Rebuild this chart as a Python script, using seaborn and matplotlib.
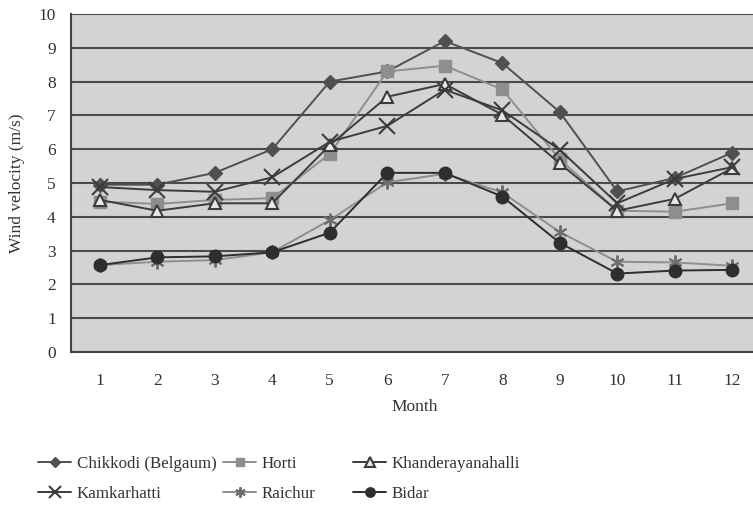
import matplotlib
matplotlib.use("Agg")
import matplotlib.pyplot as plt
import seaborn as sns
import pandas as pd
import numpy as np

months = [1, 2, 3, 4, 5, 6, 7, 8, 9, 10, 11, 12]
chikkodi = [4.95, 4.95, 5.3, 6.0, 8.0, 8.3, 9.2, 8.55, 7.1, 4.75, 5.15, 5.9]
horti = [4.45, 4.38, 4.5, 4.55, 5.86, 8.3, 8.47, 7.77, 5.7, 4.18, 4.15, 4.4]
khanderayanahalli = [4.5, 4.18, 4.4, 4.4, 6.12, 7.55, 7.93, 7.02, 5.58, 4.18, 4.53, 5.44]
kamkarhatti = [4.88, 4.79, 4.74, 5.17, 6.22, 6.69, 7.76, 7.15, 5.98, 4.4, 5.12, 5.47]
raichur = [2.57, 2.67, 2.72, 2.95, 3.9, 5.02, 5.27, 4.72, 3.55, 2.67, 2.65, 2.55]
bidar = [2.57, 2.8, 2.83, 2.95, 3.53, 5.3, 5.3, 4.6, 3.23, 2.32, 2.41, 2.43]

names = ["Chikkodi (Belgaum)", "Horti", "Khanderayanahalli",
         "Kamkarhatti", "Raichur", "Bidar"]
series = [chikkodi, horti, khanderayanahalli, kamkarhatti, raichur, bidar]

df = pd.DataFrame({
    "Month": months * len(names),
    "Wind": sum(series, []),
    "Site": sum([[n] * len(months) for n in names], []),
})

sns.set_theme(style="white")
plt.rcParams['font.family'] = ['Liberation Serif', 'DejaVu Serif']

dark = "#505050"
light = "#8e8e8e"
styles = {
    "Chikkodi (Belgaum)": dict(color=dark, marker="D", ms=7, mfc=dark, mec=dark, lw=1.4),
    "Horti": dict(color=light, marker="s", ms=8, mfc=light, mec=light, lw=1.4),
    "Khanderayanahalli": dict(color="#3c3c3c", marker="^", ms=9, mfc="#e8e8e8", mec="#3c3c3c", lw=1.4, mew=1.5),
    "Kamkarhatti": dict(color="#3c3c3c", marker="x", ms=11, mfc="none", mec="#3c3c3c", lw=1.4, mew=1.5),
    "Raichur": dict(color=light, marker=(6, 2, 0), ms=10, mfc="none", mec="#6e6e6e", lw=1.4, mew=1.4),
    "Bidar": dict(color="#2e2e2e", marker="o", ms=9, mfc="#2e2e2e", mec="#2e2e2e", lw=1.4),
}

fig = plt.figure(figsize=(7.53, 5.05), dpi=100)
ax = fig.add_axes([71 / 753, (505 - 352) / 505, (761 - 71) / 753, (352 - 14) / 505])
ax.set_facecolor("#d3d3d3")

for n in names:
    st = styles[n]
    sub = df[df["Site"] == n]
    sns.lineplot(data=sub, x="Month", y="Wind", ax=ax, color=st["color"],
                 lw=st["lw"], legend=False, zorder=3)
    line = ax.lines[-1]
    line.set_marker(st["marker"])
    line.set_markersize(st["ms"])
    line.set_markerfacecolor(st["mfc"])
    line.set_markeredgecolor(st["mec"])
    line.set_markeredgewidth(st.get("mew", 1.0))

ax.set_xlim(0.5, 12.5)
ax.set_ylim(0, 10)
ax.set_yticks(range(0, 11))
ax.set_yticklabels([str(v) for v in range(0, 11)], fontsize=12.5, color="#333333")
ax.set_xticks(months)
ax.set_xticklabels([str(m) for m in months], fontsize=12.5, color="#333333")
ax.set_xticks(np.arange(0.5, 12.5, 1.0), minor=True)
ax.tick_params(axis="x", which="major", length=0, pad=15)
ax.tick_params(axis="x", which="minor", length=6, width=1.3, color="#444444", direction="out")
ax.tick_params(axis="y", length=7, width=1.3, color="#444444", direction="out", pad=4)
ax.grid(axis="y", color="#4a4a4a", lw=1.5, zorder=1)
ax.set_axisbelow(True)
for s in ["left", "bottom"]:
    ax.spines[s].set_color("#444444")
    ax.spines[s].set_linewidth(1.5)
ax.spines["top"].set_visible(False)
ax.spines["right"].set_visible(False)

ax.set_xlabel("Month", fontsize=12.5, color="#333333")
ax.set_ylabel("Wind velocity (m/s)", fontsize=12.5, color="#333333")
ax.xaxis.set_label_coords((415 - 71) / (761 - 71), -0.14)
ax.yaxis.set_label_coords(-(71 - 25) / (761 - 71), 0.5)

cols = [["Chikkodi (Belgaum)", "Kamkarhatti"],
        ["Horti", "Raichur"],
        ["Khanderayanahalli", "Bidar"]]
col_x = [38, 223, 353]
for cx, col in zip(col_x, cols):
    hs = []
    for n in col:
        st = styles[n]
        h = plt.Line2D([], [], color=st["color"], lw=1.4, marker=st["marker"],
                       ms=st["ms"] * 0.75, mfc=st["mfc"], mec=st["mec"],
                       mew=st.get("mew", 1.0))
        hs.append(h)
    fig.legend(hs, col, loc="upper left", bbox_to_anchor=(cx / 753, 1 - 456 / 505),
               frameon=False, fontsize=12.2, handlelength=1.95, handletextpad=0.35,
               labelspacing=0.85, borderaxespad=0, borderpad=0,
               labelcolor="#333333")

fig.savefig("out.png", dpi=100)
